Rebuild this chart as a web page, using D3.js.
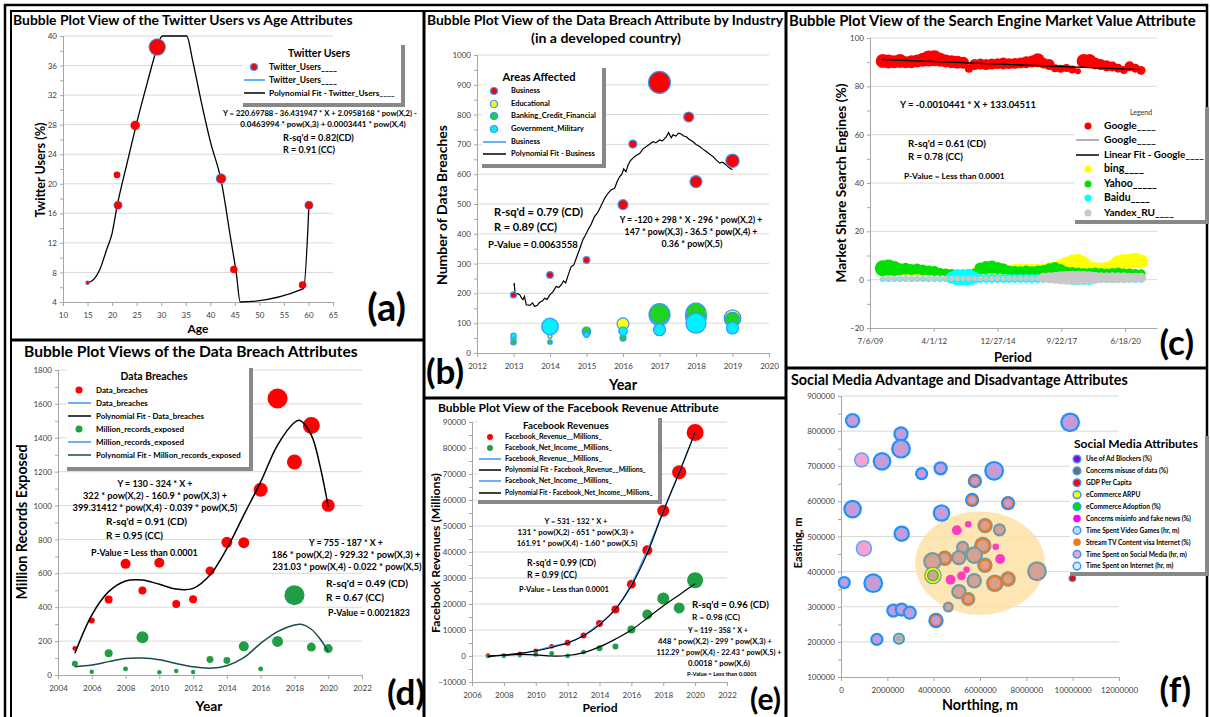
<!DOCTYPE html>
<html>
<head>
<meta charset="utf-8">
<script src="https://cdn.jsdelivr.net/npm/d3@7"></script>
<style>
  body { margin: 0; background: #fff; }
</style>
</head>
<body>
<div id="chart"></div>
<script>
// ---------- (a) twitter users vs age ----------
const ageRed = [15, 21, 21.2, 24.7, 29.2, 42.2, 44.8, 58.8, 60.1];
const twRed = [6.6, 21.2, 17.1, 27.9, 38.5, 20.7, 8.4, 6.3, 17.1];
const twRedSize = [3, 11, 14, 22, 60, 20, 14, 14, 14];
const ageBlue = [15, 21.2, 29.2, 42.2, 60.1];
const twBlue = [6.6, 17.1, 38.5, 20.7, 17.1];
const twBlueSize = [5, 20, 76, 28, 20];
const twFit = [[15, 6.6], [16, 6.9], [17.5, 8.4], [18.9, 11.1], [20, 13.3], [21, 16.9], [23.2, 23.2], [25, 28.2],
  [27.3, 34], [29, 38], [30.2, 40], [35.2, 40], [36.4, 36.7], [38.1, 31.3], [40.1, 25.5], [42.2, 20.5],
  [44.2, 12.4], [45.3, 7.9], [46.1, 4], [59, 5.8], [60.1, 17.1]];

// ---------- (b) data breaches by industry ----------
const bizYears = [2013, 2014, 2015, 2016, 2016.27, 2017, 2017.8, 2018, 2019];
const bizBreaches = [195, 262, 312, 498, 701, 908, 792, 575, 645];
const bizSize = [9, 11, 11, 25, 16, 121, 25, 36, 45];
const indYears = [2013, 2014, 2015, 2016, 2017, 2018, 2019];
const eduBreaches = [48, 56, 70, 98, 128, 124, 117];
const eduSize = [6, 4, 16, 36, 110, 110, 69];
const bankBreaches = [36, 37, 73, 50, 132, 134, 112];
const bankSize = [7, 5, 18, 9, 100, 100, 53];
const govBreaches = [58, 89, 61, 73, 78, 100, 84];
const govSize = [7, 69, 7, 18, 36, 100, 36];
const bizFit = [[2013.0, 229], [2013.02, 232], [2013.05, 190], [2013.1, 200], [2013.17, 196], [2013.22, 185],
  [2013.26, 179], [2013.3, 190], [2013.35, 162], [2013.45, 160], [2013.52, 168], [2013.58, 156], [2013.65, 160],
  [2013.72, 170], [2013.8, 175], [2013.85, 184], [2013.92, 180], [2014.0, 196], [2014.08, 205], [2014.17, 223],
  [2014.24, 220], [2014.31, 229], [2014.37, 242], [2014.43, 235], [2014.5, 262], [2014.58, 290], [2014.65, 295],
  [2014.72, 318], [2014.8, 345], [2014.9, 380], [2014.97, 395], [2015.04, 413], [2015.12, 430], [2015.22, 458],
  [2015.3, 470], [2015.41, 497], [2015.5, 520], [2015.59, 536], [2015.68, 548], [2015.77, 553], [2015.85, 578],
  [2015.91, 592], [2015.97, 600], [2016.02, 618], [2016.08, 608], [2016.14, 631], [2016.2, 645], [2016.27, 654],
  [2016.35, 662], [2016.46, 670], [2016.55, 685], [2016.64, 693], [2016.72, 700], [2016.82, 709], [2016.9, 705],
  [2017.0, 715], [2017.08, 712], [2017.19, 726], [2017.25, 740], [2017.32, 722], [2017.37, 732], [2017.45, 728],
  [2017.52, 738], [2017.6, 735], [2017.66, 728], [2017.73, 726], [2017.8, 718], [2017.92, 709], [2018.0, 700],
  [2018.1, 693], [2018.18, 685], [2018.28, 676], [2018.37, 668], [2018.47, 659], [2018.55, 648], [2018.65, 637],
  [2018.73, 640], [2018.83, 631], [2018.9, 622], [2019.0, 615]];

// ---------- (c) search engine market share (Excel date serials) ----------
const periods = d3.range(40200, 44251, 90);
const googleShare = [90.5, 90.3, 90.2, 90.5, 90.0, 90.2, 90.5, 91.0, 91.5, 91.6, 91.0, 90.5, 90.2, 90.0, 89.8, 87.3,
  89.0, 89.2, 89.0, 89.2, 89.4, 89.5, 89.4, 89.5, 89.7, 90.0, 90.3, 90.8, 89.6, 89.0, 87.5, 87.3, 87.6, 87.0, 86.2,
  90.5, 90.5, 89.5, 89.0, 88.5, 88.2, 87.5, 86.8, 88.3, 87.5, 86.6];
const googleSize = [49, 49, 42, 49, 36, 42, 42, 49, 64, 64, 49, 42, 42, 42, 36, 16, 30, 30, 30, 30, 30, 36, 30, 30,
  30, 36, 36, 49, 30, 30, 16, 16, 16, 16, 9, 49, 49, 36, 30, 30, 25, 20, 16, 25, 20, 20];
const bingShare = [2.5, 2.5, 2.5, 2.5, 2.5, 2.5, 2.5, 2.5, 2.5, 2.5, 2.5, 2.5, 2.5, 2.5, 2.5, 3.0, 3.5, 2.5, 2.5, 2.5,
  2.5, 2.5, 2.5, 4.5, 4.5, 4.5, 4.5, 4.5, 4.5, 5.0, 5.0, 6.0, 6.8, 7.5, 7.8, 7.0, 5.5, 5.0, 4.8, 5.2, 5.8, 7.2, 7.5,
  7.6, 8.0, 7.5];
const bingSize = [9, 9, 9, 9, 9, 9, 9, 9, 9, 9, 9, 9, 9, 9, 9, 12, 12, 9, 9, 9, 9, 9, 9, 25, 25, 25, 25, 25, 25, 30,
  30, 36, 42, 49, 49, 42, 30, 30, 30, 30, 36, 49, 56, 56, 56, 49];
const yahooShare = [4.7, 5.0, 4.6, 4.3, 4.5, 4.2, 4.4, 4.0, 3.8, 3.6, 3.2, 3.0, 2.8, 2.6, 2.6, 2.8, 3.0, 4.6, 5.0, 5.2,
  4.8, 4.5, 3.8, 3.6, 3.5, 3.8, 3.5, 3.8, 4.0, 4.5, 4.8, 4.2, 3.6, 3.4, 3.2, 3.0, 3.0, 3.2, 3.0, 2.8, 3.0, 3.2, 2.8,
  2.8, 2.6, 2.5];
const yahooSize = [64, 64, 56, 36, 36, 30, 30, 30, 25, 25, 16, 16, 16, 16, 16, 16, 16, 36, 42, 42, 36, 30, 25, 25, 25,
  25, 25, 25, 25, 30, 36, 30, 20, 20, 20, 20, 20, 20, 20, 20, 20, 20, 20, 20, 20, 20];
const baiduShare = [0.3, 0.3, 0.3, 0.3, 0.3, 0.3, 0.3, 0.3, 0.3, 0.3, 0.3, 0.3, 0.8, 1.0, 1.0, 1.0, 0.8, 0.5, 0.5, 0.5,
  0.5, 0.5, 0.5, 0.5, 0.5, 0.5, 0.5, 0.5, 0.5, 0.5, 0.5, 0.5, 0.5, 0.3, 0.3, 0.3, 0.3, 0.5, 0.5, 0.5, 0.5, 0.5, 0.5,
  0.5, 0.5, 0.5];
const baiduSize = [9, 9, 9, 9, 9, 9, 9, 9, 9, 9, 9, 9, 36, 64, 64, 64, 36, 20, 20, 20, 20, 20, 20, 20, 20, 20, 20, 20,
  20, 20, 20, 20, 20, 36, 36, 36, 36, 20, 20, 20, 20, 20, 20, 20, 20, 20];
const yandexShare = [0.5, 0.5, 0.5, 0.5, 0.5, 0.5, 0.5, 0.5, 0.5, 0.5, 0.5, 0.5, 0.5, 0.5, 0.5, 0.5, 0.5, 0.5, 0.5, 0.5,
  0.5, 0.5, 0.5, 0.5, 0.5, 0.5, 0.5, 0.5, 0.8, 0.8, 0.8, 0.8, 0.8, 0.8, 0.8, 0.8, 0.8, 0.8, 0.8, 0.8, 0.8, 0.8, 0.8,
  0.8, 0.8, 0.8];
const yandexSize = [7, 7, 7, 7, 7, 7, 7, 7, 7, 7, 7, 7, 7, 7, 7, 7, 7, 7, 7, 7, 7, 7, 7, 7, 7, 7, 7, 7, 25, 30, 36, 42,
  49, 49, 49, 49, 42, 36, 30, 30, 30, 30, 30, 25, 25, 25];
const googleFit = [[40183, 91.1], [44260, 86.9]];

// ---------- (d) data breaches / records exposed ----------
const dbYears = [2005, 2006, 2007, 2008, 2009, 2010, 2011, 2012, 2013, 2014, 2015, 2016, 2017, 2018, 2019, 2020];
const dataBreaches = [157, 321, 446, 656, 498, 662, 419, 447, 614, 783, 781, 1093, 1632, 1257, 1473, 1001];
const breachSize = [6, 9, 16, 25, 16, 25, 16, 16, 20, 30, 30, 49, 100, 56, 72, 42];
const recordsExposed = [67, 19, 128, 36, 223, 16, 23, 18, 92, 86, 169, 36, 198, 471, 165, 156];
const recordsSize = [9, 5, 16, 6, 36, 5, 5, 5, 12, 12, 25, 6, 30, 100, 20, 20];
const breachFit = [[2005, 128], [2006, 354], [2007, 492], [2008, 555], [2009, 560], [2010, 535], [2011, 507],
  [2012, 511], [2013, 590], [2014, 747], [2015, 944], [2016, 1140], [2017, 1357], [2018, 1490], [2018.3, 1503],
  [2019, 1416], [2019.5, 1240], [2020, 993]];
const recordsFit = [[2005, 49], [2006, 59], [2007, 79], [2008, 98], [2009, 100], [2010, 90], [2011, 68], [2012, 48],
  [2013, 40], [2014, 55], [2015, 102], [2016, 187], [2017, 256], [2018, 295], [2018.4, 299], [2019, 270],
  [2019.5, 215], [2020, 138]];

// ---------- (e) facebook revenue ----------
const fbYears = [2007, 2008, 2009, 2010, 2011, 2012, 2013, 2014, 2015, 2016, 2017, 2018, 2019, 2020];
const fbRevenue = [153, 272, 777, 1974, 3711, 5089, 7872, 12466, 17928, 27638, 40653, 55838, 70697, 85965];
const fbRevenueSize = [5, 4, 6, 6, 6, 9, 9, 12, 16, 20, 25, 36, 49, 72];
const fbIncome = [-138, -56, 229, 606, 1000, 53, 1500, 2940, 3688, 10217, 15934, 22112, 18485, 29146];
const fbIncomeSize = [4, 4, 4, 6, 6, 6, 6, 9, 9, 16, 25, 36, 30, 64];
const fbRevenueFit = [0, 400, 1000, 2000, 3300, 5000, 7800, 12000, 18000, 27000, 39500, 55500, 70500, 86000];
const fbIncomeFit = [-300, 300, 600, 400, 0, 200, 1300, 3500, 6500, 10000, 14600, 19200, 23500, 27800];

// ---------- (f) social media attributes ----------
const smNorthing = [0.50, 2.59, 2.59, 0.89, 1.77, 4.30, 3.48, 6.61, 0.50, 4.34, 2.62, 0.99, 0.14, 1.39, 2.26, 2.62,
  2.97, 1.55, 2.50, 9.89, 9.99, 5.78, 5.66, 7.21, 4.10, 6.22, 6.84, 5.49, 5.00, 6.68, 6.12, 5.25, 5.75, 5.09, 4.48,
  3.95, 6.87, 6.21, 5.42, 3.97, 5.20, 4.73, 5.75, 6.64, 7.21, 8.46, 5.09, 5.49, 4.63].map(d => d * 1e6);
const smEasting = [830, 792, 750, 718, 714, 694, 679, 687, 578, 567, 508, 466, 369, 367, 289, 292, 283, 207, 209, 825,
  381, 658, 604, 595, 261, 531, 519, 535, 518, 471, 474, 469, 447, 440, 438, 429, 436, 418, 405, 389, 388, 377, 374,
  367, 379, 401, 343, 322, 299].map(d => d * 1e3);
const smSize = [49, 49, 81, 49, 72, 42, 36, 81, 72, 64, 56, 56, 36, 81, 42, 42, 42, 36, 30, 81, 12, 42, 42, 42, 49,
  49, 36, 9, 20, 9, 64, 36, 64, 49, 49, 72, 20, 49, 9, 64, 16, 20, 49, 64, 49, 81, 49, 42, 25];
const smKind = ['social', 'social', 'social', 'pink', 'social', 'social', 'social', 'social', 'social', 'social',
  'social', 'pink', 'social', 'social', 'social', 'social', 'social', 'social', 'socialEcom', 'social', 'gdp',
  'socialStream', 'socialStream', 'socialStream', 'socialStream', 'stream', 'misuse', 'misinfo', 'misinfo', 'misinfo',
  'stream', 'misuse', 'misuse', 'misuse', 'stream', 'misuse', 'misinfo', 'stream', 'misinfo', 'ecom', 'misinfo',
  'misinfo', 'misuse', 'stream', 'stream', 'misuse', 'misuse', 'stream', 'misuse'];
const smCluster = [6.0e6, 424000, 2.8e6, 147000];
const smLegend = ['Use of Ad Blockers (%)', 'Concerns misuse of data (%)', 'GDP Per Capita', 'eCommerce ARPU',
  'eCommerce Adoption (%)', 'Concerns misinfo and fake news (%)', 'Time Spent Video Games (hr, m)',
  'Stream TV Content visa Internet (%)', 'Time Spent on Social Media (hr, m)', 'Time Spent on Internet (hr, m)'];
const smLegendColor = ['#9900cc', '#6e6e6e', '#ff0000', '#ffff00', '#00e000', '#ff00ff', '#bcd8f8', '#f07a22',
  '#f59fcf', '#dcecff'];

// ring layers for the stacked bubbles of panel (f): [colour, inset]
const smStyles = {
  social: [['#2a8cf5', 0], ['#7fb7f7', 2.2], ['#c99ad8', 3]],
  pink: [['#58aaf5', 0], ['#f5a3d3', 1.6]],
  socialStream: [['#2a8cf5', 0], ['#f07a22', 1.8], ['#c99ad8', 3.3]],
  socialEcom: [['#2a8cf5', 0], ['#9be03a', 1.6], ['#c99ad8', 3]],
  stream: [['#6f9ba6', 0], ['#f07a22', 1.1], ['#d6a092', 3.2]],
  misuse: [['#6f9ba6', 0], ['#d6a092', 2.2]],
  misinfo: [['#ff3cc0', 0]],
  ecom: [['#6f9ba6', 0], ['#ffff00', 1.2], ['#3fbf3f', 2.8], ['#d6a092', 4.2]],
  gdp: [['#2a8cf5', 0], ['#ff0000', 1.2]]
};

const F = 'Lato, "Open Sans", sans-serif';
const RING = '#3399ff';
const rS = d3.scaleSqrt().domain([0, 100]).range([0, 10]);
const rF = d3.scaleSqrt().domain([0, 100]).range([0, 11]);

const svg = d3.select('#chart').append('svg').attr('width', 1210).attr('height', 717);
svg.append('rect').attr('width', 1210).attr('height', 717).attr('fill', '#fff');

function txt(g, s, x, y, o = {}) {
  const size = o.size || 9;
  const t = g.append('text').attr('x', x).attr('y', y).text(s)
    .attr('font-family', F).attr('font-size', size)
    .attr('font-weight', o.weight || 'bold').attr('fill', o.fill || '#000')
    .attr('text-anchor', o.anchor || 'start');
  if (o.rotate) t.attr('transform', `rotate(-90,${x},${y})`);
  if (o.w) {
    const n = t.node().getComputedTextLength();
    if (n > 0) t.attr('font-size', size * o.w / n);
  }
  return t;
}

function axes(g, x, y, xt, yt, o = {}) {
  const [x0, x1] = x.range();
  const yb = y.range()[0];
  g.append('g').selectAll('line').data(yt.slice(1)).join('line')
    .attr('x1', x0).attr('x2', x1).attr('y1', d => y(d)).attr('y2', d => y(d))
    .attr('stroke', '#d9d9d9');
  const parts = [];
  if (o.ym) {
    parts.push(g.append('g').attr('transform', `translate(${x0},0)`)
      .call(d3.axisLeft(y).tickValues(o.ym).tickSize(3).tickFormat('')));
  }
  parts.push(g.append('g').attr('transform', `translate(${x0},0)`)
    .call(d3.axisLeft(y).tickValues(yt).tickSizeInner(3).tickSizeOuter(0).tickPadding(3)
      .tickFormat(o.yf || d3.format('d'))));
  parts.push(g.append('g').attr('transform', `translate(0,${yb})`)
    .call(d3.axisBottom(x).tickValues(xt).tickSizeInner(4).tickSizeOuter(0).tickPadding(6)
      .tickFormat(o.xf || d3.format('d'))));
  parts.forEach(a => {
    a.select('.domain').attr('stroke', '#a6a6a6');
    a.selectAll('.tick line').attr('stroke', '#a6a6a6');
    a.selectAll('.tick text').attr('font-family', F).attr('font-size', 8).attr('fill', '#404040');
  });
}

function dots(g, xs, ys, ss, x, y, fill, o = {}) {
  g.append('g').selectAll('circle')
    .data(xs.map((d, i) => ({ x: d, y: ys[i], s: ss[i] })))
    .join('circle')
    .attr('cx', d => x(d.x)).attr('cy', d => y(d.y)).attr('r', d => rS(d.s))
    .attr('fill', fill).attr('stroke', o.stroke || 'none').attr('stroke-width', o.sw || 1);
}

function path(g, pts, x, y, color, o = {}) {
  g.append('path').datum(pts)
    .attr('d', d3.line().x(d => x(d[0])).y(d => y(d[1])).curve(o.curve || d3.curveLinear))
    .attr('fill', 'none').attr('stroke', color).attr('stroke-width', o.sw || 1.3);
}

function legendBox(g, x0, y0, w, h) {
  g.append('rect').attr('x', x0).attr('y', y0).attr('width', w).attr('height', h).attr('fill', '#fff');
  g.append('rect').attr('x', x0 + w - 4).attr('y', y0).attr('width', 4).attr('height', h).attr('fill', '#888');
  g.append('rect').attr('x', x0).attr('y', y0 + h - 4).attr('width', w).attr('height', 4).attr('fill', '#888');
}

function legendRows(g, rows, mx, lx0, lx1, tx, fs) {
  rows.forEach(r => {
    if (r.t === 'dot') {
      g.append('circle').attr('cx', mx).attr('cy', r.y).attr('r', r.r || 3.5)
        .attr('fill', r.c).attr('stroke', r.ring || 'none').attr('stroke-width', r.rw || 1.2);
    } else {
      g.append('line').attr('x1', lx0).attr('x2', lx1).attr('y1', r.y).attr('y2', r.y)
        .attr('stroke', r.c).attr('stroke-width', r.sw || 1.5);
    }
    txt(g, r.label, tx, r.y + fs * 0.36, { size: fs, w: r.w });
  });
}

// ---------- frame ----------
const frame = svg.append('g').attr('fill', 'none').attr('stroke', '#000');
frame.append('rect').attr('x', 5).attr('y', 5).attr('width', 1202).attr('height', 730).attr('stroke-width', 2.5);
frame.append('rect').attr('x', 11).attr('y', 11).attr('width', 1196).attr('height', 730).attr('stroke-width', 2);
[[424, 11, 424, 717], [786, 11, 786, 717], [11, 340, 424, 340], [424, 398, 786, 398], [786, 368, 1207, 368]]
  .forEach(l => frame.append('line').attr('x1', l[0]).attr('y1', l[1]).attr('x2', l[2]).attr('y2', l[3])
    .attr('stroke-width', 3));

// ---------- panel (a) ----------
{
  const g = svg.append('g');
  const x = d3.scaleLinear().domain([10, 65]).range([63, 333]);
  const y = d3.scaleLinear().domain([4, 40]).range([302, 36]);
  axes(g, x, y, d3.range(10, 66, 5), d3.range(4, 41, 4), { ym: d3.range(6, 40, 4) });
  legendBox(g, 243, 45, 162, 62);
  txt(g, 'Twitter Users', 319, 57, { size: 9.5, anchor: 'middle', w: 62 });
  legendRows(g, [
    { t: 'dot', y: 67, c: '#ff0000', ring: RING, label: 'Twitter_Users____', w: 68 },
    { t: 'line', y: 80, c: RING, label: 'Twitter_Users____', w: 68 },
    { t: 'line', y: 93, c: '#000', label: 'Polynomial Fit - Twitter_Users____', w: 126 }
  ], 254, 244, 265, 269, 7);
  path(g, twFit, x, y, '#000', { curve: d3.curveMonotoneX });
  dots(g, ageBlue, twBlue, twBlueSize, x, y, RING);
  dots(g, ageRed, twRed, twRedSize, x, y, '#ff0000');
  txt(g, 'Bubble Plot View of the Twitter Users vs Age Attributes', 13, 25, { size: 13, w: 340 });
  txt(g, 'Twitter Users (%)', 45, 170, { size: 13, anchor: 'middle', rotate: true, w: 95 });
  txt(g, 'Age', 198, 333, { size: 13, anchor: 'middle', w: 21 });
  txt(g, 'Y = 220.69788 - 36.431947 * X + 2.0958168 * pow(X,2) -', 320, 116, { size: 7, anchor: 'middle', w: 194 });
  txt(g, '0.0463994 * pow(X,3) + 0.0003441 * pow(X,4)', 323, 127, { size: 7, anchor: 'middle', w: 166 });
  txt(g, "R-sq'd = 0.82(CD)", 283, 141, { size: 9, w: 71 });
  txt(g, 'R = 0.91 (CC)', 283, 153, { size: 9, w: 52 });
  txt(g, '(a)', 406, 321, { size: 38, anchor: 'end' });
}

// ---------- panel (b) ----------
{
  const g = svg.append('g');
  const x = d3.scaleLinear().domain([2012, 2020]).range([477, 769]);
  const y = d3.scaleLinear().domain([0, 1000]).range([353, 55]);
  axes(g, x, y, d3.range(2012, 2021, 1), d3.range(0, 1001, 100), { ym: d3.range(50, 1000, 100) });
  path(g, bizFit, x, y, '#000', { sw: 1.2 });
  dots(g, bizYears, bizBreaches, bizSize, x, y, '#ff0000', { stroke: RING, sw: 1.2 });
  dots(g, indYears, eduBreaches, eduSize, x, y, '#ffff00', { stroke: RING, sw: 1.2 });
  dots(g, indYears, bankBreaches, bankSize, x, y, '#1ed41e', { stroke: RING, sw: 1.2 });
  dots(g, indYears, govBreaches, govSize, x, y, '#00f0ff', { stroke: RING, sw: 1.2 });
  legendBox(g, 482, 68, 124, 100);
  txt(g, 'Areas Affected', 539, 81, { size: 9.5, anchor: 'middle', w: 73 });
  legendRows(g, [
    { t: 'dot', y: 91, c: '#ff0000', ring: RING, label: 'Business', w: 29 },
    { t: 'dot', y: 104, c: '#ffff00', ring: RING, label: 'Educational', w: 39 },
    { t: 'dot', y: 116, c: '#1ed41e', ring: RING, label: 'Banking_Credit_Financial', w: 85 },
    { t: 'dot', y: 129, c: '#00f0ff', ring: RING, label: 'Government_Military', w: 73 },
    { t: 'line', y: 142, c: RING, label: 'Business', w: 29 },
    { t: 'line', y: 154, c: '#000', label: 'Polynomial Fit - Business', w: 84 }
  ], 494, 483, 506, 511, 6.5);
  txt(g, 'Bubble Plot View of the Data Breach Attribute by Industry', 605, 25, { size: 13, anchor: 'middle', w: 356 });
  txt(g, '(in a developed country)', 606, 43, { size: 13, anchor: 'middle', w: 150 });
  txt(g, 'Number of Data Breaches', 447, 205, { size: 13, anchor: 'middle', rotate: true, w: 160 });
  txt(g, 'Year', 623, 390, { size: 13, anchor: 'middle', w: 28 });
  txt(g, "R-sq'd = 0.79 (CD)", 494, 216, { size: 10, w: 89 });
  txt(g, 'R = 0.89 (CC)', 494, 231, { size: 10, w: 63 });
  txt(g, 'P-Value = 0.0063558', 488, 248, { size: 8, w: 90 });
  txt(g, 'Y = -120 + 298 * X - 296 * pow(X,2) +', 691, 223, { size: 7, anchor: 'middle', w: 143 });
  txt(g, '147 * pow(X,3) - 36.5 * pow(X,4) +', 691, 235, { size: 7, anchor: 'middle', w: 133 });
  txt(g, '0.36 * pow(X,5)', 692, 247, { size: 7, anchor: 'middle', w: 61 });
  txt(g, '(b)', 426, 384, { size: 35 });
}

// ---------- panel (c) ----------
{
  const g = svg.append('g');
  const x = d3.scaleLinear().domain([40000, 44500]).range([870, 1157]);
  const y = d3.scaleLinear().domain([-20, 100]).range([328, 38]);
  const serialFmt = s => {
    const d = new Date(Date.UTC(1899, 11, 30) + s * 864e5);
    return `${d.getUTCMonth() + 1}/${d.getUTCDate()}/${String(d.getUTCFullYear()).slice(2)}`;
  };
  axes(g, x, y, [40000, 41000, 42000, 43000, 44000], d3.range(-20, 101, 20),
    { xf: serialFmt, ym: d3.range(-10, 100, 20) });
  dots(g, periods, googleShare, googleSize, x, y, '#ff0000');
  dots(g, periods, bingShare, bingSize, x, y, '#ffff00');
  dots(g, periods, yahooShare, yahooSize, x, y, '#00e000');
  dots(g, periods, baiduShare, baiduSize, x, y, '#00ffff');
  dots(g, periods, yandexShare, yandexSize, x, y, '#c8c8c8');
  path(g, googleFit, x, y, '#000', { sw: 1.3 });
  legendBox(g, 1075, 107, 134, 117);
  txt(g, 'Legend', 1141, 115, { size: 7, weight: 'normal', anchor: 'middle', fill: '#333' });
  legendRows(g, [
    { t: 'dot', y: 126, c: '#ff0000', label: 'Google____', w: 52 },
    { t: 'line', y: 140, c: '#999', label: 'Google____', w: 52 },
    { t: 'line', y: 155, c: '#000', label: 'Linear Fit - Google____', w: 100 },
    { t: 'dot', y: 169, c: '#ffff00', label: 'bing____', w: 40 },
    { t: 'dot', y: 184, c: '#00e000', label: 'Yahoo_____', w: 53 },
    { t: 'dot', y: 198, c: '#00ffff', label: 'Baidu____', w: 46 },
    { t: 'dot', y: 213, c: '#c8c8c8', label: 'Yandex_RU____', w: 70 }
  ], 1088, 1076, 1099, 1104, 8);
  txt(g, 'Bubble Plot View of the Search Engine Market Value Attribute', 789, 26, { size: 13, w: 407 });
  txt(g, 'Market Share Search Engines (%)', 846, 183, { size: 13, anchor: 'middle', rotate: true, w: 199 });
  txt(g, 'Period', 1013, 362, { size: 13, anchor: 'middle', w: 38 });
  txt(g, 'Y = -0.0010441 * X + 133.04511', 900, 108, { size: 8, w: 136 });
  txt(g, "R-sq'd = 0.61 (CD)", 908, 147, { size: 8, w: 78 });
  txt(g, 'R = 0.78 (CC)', 908, 160, { size: 8, w: 55 });
  txt(g, 'P-Value = Less than 0.0001', 904, 179, { size: 7, w: 101 });
  txt(g, '(c)', 1194, 355, { size: 35, anchor: 'end' });
}

// ---------- panel (d) ----------
{
  const g = svg.append('g');
  const x = d3.scaleLinear().domain([2004, 2022]).range([58, 362]);
  const y = d3.scaleLinear().domain([0, 1800]).range([675, 370]);
  axes(g, x, y, d3.range(2004, 2023, 2), d3.range(0, 1801, 200), { ym: d3.range(100, 1800, 200) });
  dots(g, dbYears, dataBreaches, breachSize, x, y, '#ff0000');
  dots(g, dbYears, recordsExposed, recordsSize, x, y, '#1f9e45');
  path(g, breachFit, x, y, '#000', { curve: d3.curveCatmullRom, sw: 1.5 });
  path(g, recordsFit, x, y, '#1b4b4b', { curve: d3.curveCatmullRom, sw: 1.5 });
  legendBox(g, 67, 368, 186, 103);
  txt(g, 'Data Breaches', 154, 380, { size: 9.5, anchor: 'middle', w: 67 });
  legendRows(g, [
    { t: 'dot', y: 390, c: '#ff0000', label: 'Data_breaches', w: 52 },
    { t: 'line', y: 403, c: RING, label: 'Data_breaches', w: 52 },
    { t: 'line', y: 416, c: '#000', label: 'Polynomial Fit - Data_breaches', w: 108 },
    { t: 'dot', y: 429, c: '#1f9e45', label: 'Million_records_exposed', w: 88 },
    { t: 'line', y: 442, c: RING, label: 'Million_records_exposed', w: 88 },
    { t: 'line', y: 455, c: '#1b4b4b', label: 'Polynomial Fit - Million_records_exposed', w: 145 }
  ], 79, 68, 91, 96, 7);
  txt(g, 'Bubble Plot Views of the Data Breach Attributes', 24, 357, { size: 13, w: 334 });
  txt(g, 'Million Records Exposed', 27, 522, { size: 13, anchor: 'middle', rotate: true, w: 155 });
  txt(g, 'Year', 209, 711, { size: 13, anchor: 'middle', w: 27 });
  txt(g, 'Y = 130 - 324 * X +', 155, 487, { size: 7, anchor: 'middle', w: 75 });
  txt(g, '322 * pow(X,2) - 160.9 * pow(X,3) +', 155, 499, { size: 7, anchor: 'middle', w: 144 });
  txt(g, '399.31412 * pow(X,4) - 0.039 * pow(X,5)', 155, 511, { size: 7, anchor: 'middle', w: 165 });
  txt(g, "R-sq'd = 0.91 (CD)", 106, 525, { size: 9, w: 81 });
  txt(g, 'R = 0.95 (CC)', 106, 539, { size: 9, w: 57 });
  txt(g, 'P-Value = Less than 0.0001', 91, 556, { size: 7, w: 107 });
  txt(g, 'Y = 755 - 187 * X +', 346, 546, { size: 7, anchor: 'middle', w: 74 });
  txt(g, '186 * pow(X,2) - 929.32 * pow(X,3) +', 346, 558, { size: 7, anchor: 'middle', w: 149 });
  txt(g, '231.03 * pow(X,4) - 0.022 * pow(X,5)', 347, 570, { size: 7, anchor: 'middle', w: 149 });
  txt(g, "R-sq'd = 0.49 (CD)", 326, 587, { size: 9, w: 82 });
  txt(g, 'R = 0.67 (CC)', 326, 601, { size: 9, w: 58 });
  txt(g, 'P-Value = 0.0021823', 328, 616, { size: 7, w: 82 });
  txt(g, '(d)', 425, 705, { size: 35, anchor: 'end' });
}

// ---------- panel (e) ----------
{
  const g = svg.append('g');
  const x = d3.scaleLinear().domain([2006, 2022]).range([472, 727]);
  const y = d3.scaleLinear().domain([-10000, 90000]).range([682, 422]);
  axes(g, x, y, d3.range(2006, 2023, 2), d3.range(-10000, 90001, 10000), { ym: d3.range(-5000, 90000, 10000) });
  dots(g, fbYears, fbRevenue, fbRevenueSize, x, y, '#ff0000');
  dots(g, fbYears, fbIncome, fbIncomeSize, x, y, '#1f9e45');
  path(g, fbYears.map((d, i) => [d, fbRevenue[i]]), x, y, RING, { curve: d3.curveCatmullRom, sw: 1.3 });
  path(g, fbYears.map((d, i) => [d, fbRevenueFit[i]]), x, y, '#000', { curve: d3.curveCatmullRom, sw: 1.1 });
  path(g, fbYears.map((d, i) => [d, fbIncomeFit[i]]), x, y, '#000', { curve: d3.curveCatmullRom, sw: 1.2 });
  legendBox(g, 478, 418, 184, 86);
  txt(g, 'Facebook Revenues', 566, 429, { size: 9, anchor: 'middle', w: 86 });
  legendRows(g, [
    { t: 'dot', y: 437, c: '#ff0000', r: 3, label: 'Facebook_Revenue__Millions_', w: 97 },
    { t: 'dot', y: 448, c: '#1f9e45', r: 3, label: 'Facebook_Net_Income__Millions_', w: 107 },
    { t: 'line', y: 459, c: RING, label: 'Facebook_Revenue__Millions_', w: 97 },
    { t: 'line', y: 470, c: '#000', label: 'Polynomial Fit - Facebook_Revenue__Millions_', w: 141 },
    { t: 'line', y: 481, c: RING, label: 'Facebook_Net_Income__Millions_', w: 107 },
    { t: 'line', y: 493, c: '#000', label: 'Polynomial Fit - Facebook_Net_Income__Millions_', w: 148 }
  ], 490, 479, 501, 505, 6);
  txt(g, 'Bubble Plot View of the Facebook Revenue Attribute', 438, 412, { size: 12, w: 281 });
  txt(g, 'Facebook Revenues (Millions)', 440, 553, { size: 13, anchor: 'middle', rotate: true, w: 160 });
  txt(g, 'Period', 600, 712, { size: 13, anchor: 'middle', w: 35 });
  txt(g, 'Y = 531 - 132 * X +', 576, 524, { size: 7, anchor: 'middle', w: 63 });
  txt(g, '131 * pow(X,2) - 651 * pow(X,3) +', 576, 535, { size: 7, anchor: 'middle', w: 117 });
  txt(g, '161.91 * pow(X,4) - 1.60 * pow(X,5)', 577, 546, { size: 7, anchor: 'middle', w: 121 });
  txt(g, "R-sq'd = 0.99 (CD)", 527, 566, { size: 8.5, w: 69 });
  txt(g, 'R = 0.99 (CC)', 527, 578, { size: 8.5, w: 50 });
  txt(g, 'P-Value = Less than 0.0001', 519, 592, { size: 7, w: 90 });
  txt(g, "R-sq'd = 0.96 (CD)", 692, 608, { size: 8.5, w: 77 });
  txt(g, 'R = 0.98 (CC)', 692, 620, { size: 8.5, w: 48 });
  txt(g, 'Y = 119 - 358 * X +', 718, 633, { size: 7, anchor: 'middle', w: 60 });
  txt(g, '448 * pow(X,2) - 299 * pow(X,3) +', 715, 644, { size: 7, anchor: 'middle', w: 114 });
  txt(g, '112.29 * pow(X,4) - 22.43 * pow(X,5) +', 719, 655, { size: 7, anchor: 'middle', w: 125 });
  txt(g, '0.0018 * pow(X,6)', 719, 666, { size: 7, anchor: 'middle', w: 62 });
  txt(g, 'P-Value = Less than 0.0001', 722, 676, { size: 7, anchor: 'middle', w: 70 });
  txt(g, '(e)', 781, 710, { size: 30, anchor: 'end' });
}

// ---------- panel (f) ----------
{
  const g = svg.append('g');
  const x = d3.scaleLinear().domain([0, 12e6]).range([841, 1119]);
  const y = d3.scaleLinear().domain([100000, 900000]).range([677, 396]);
  axes(g, x, y, d3.range(0, 12e6 + 1, 2e6), d3.range(100000, 900001, 100000),
    { ym: d3.range(150000, 900000, 100000) });
  g.append('ellipse')
    .attr('cx', x(smCluster[0])).attr('cy', y(smCluster[1]))
    .attr('rx', x(smCluster[0] + smCluster[2]) - x(smCluster[0]))
    .attr('ry', y(smCluster[1] - smCluster[3]) - y(smCluster[1]))
    .attr('fill', '#fde2a6').attr('opacity', 0.85);
  const pts = smNorthing.map((d, i) => ({ x: d, y: smEasting[i], s: smSize[i], k: smKind[i] }));
  const bub = g.append('g').selectAll('g').data(pts).join('g')
    .attr('transform', d => `translate(${x(d.x)},${y(d.y)})`);
  bub.each(function (d) {
    const r = rF(d.s);
    smStyles[d.k].forEach(([c, inset]) => {
      if (r - inset > 0.5) d3.select(this).append('circle').attr('r', r - inset).attr('fill', c);
    });
  });
  legendBox(g, 1070, 436, 139, 140);
  txt(g, 'Social Media Attributes', 1074, 448, { size: 11, w: 124 });
  legendRows(g, smLegend.map((l, i) => ({
    t: 'dot', y: 459 + i * 11.9, c: smLegendColor[i], ring: i === 5 || i === 7 ? 'none' : RING, rw: 1.5, r: 3.8,
    label: l
  })), 1077, 0, 0, 1086, 6.6);
  txt(g, 'Social Media Advantage and Disadvantage Attributes', 791, 385, { size: 13, w: 337 });
  txt(g, 'Easting, m', 802, 543, { size: 13, anchor: 'middle', rotate: true, w: 51 });
  txt(g, 'Northing, m', 980, 710, { size: 13, anchor: 'middle', w: 76 });
  txt(g, '(f)', 1191, 702, { size: 35, anchor: 'end' });
}
</script>
</body>
</html>
